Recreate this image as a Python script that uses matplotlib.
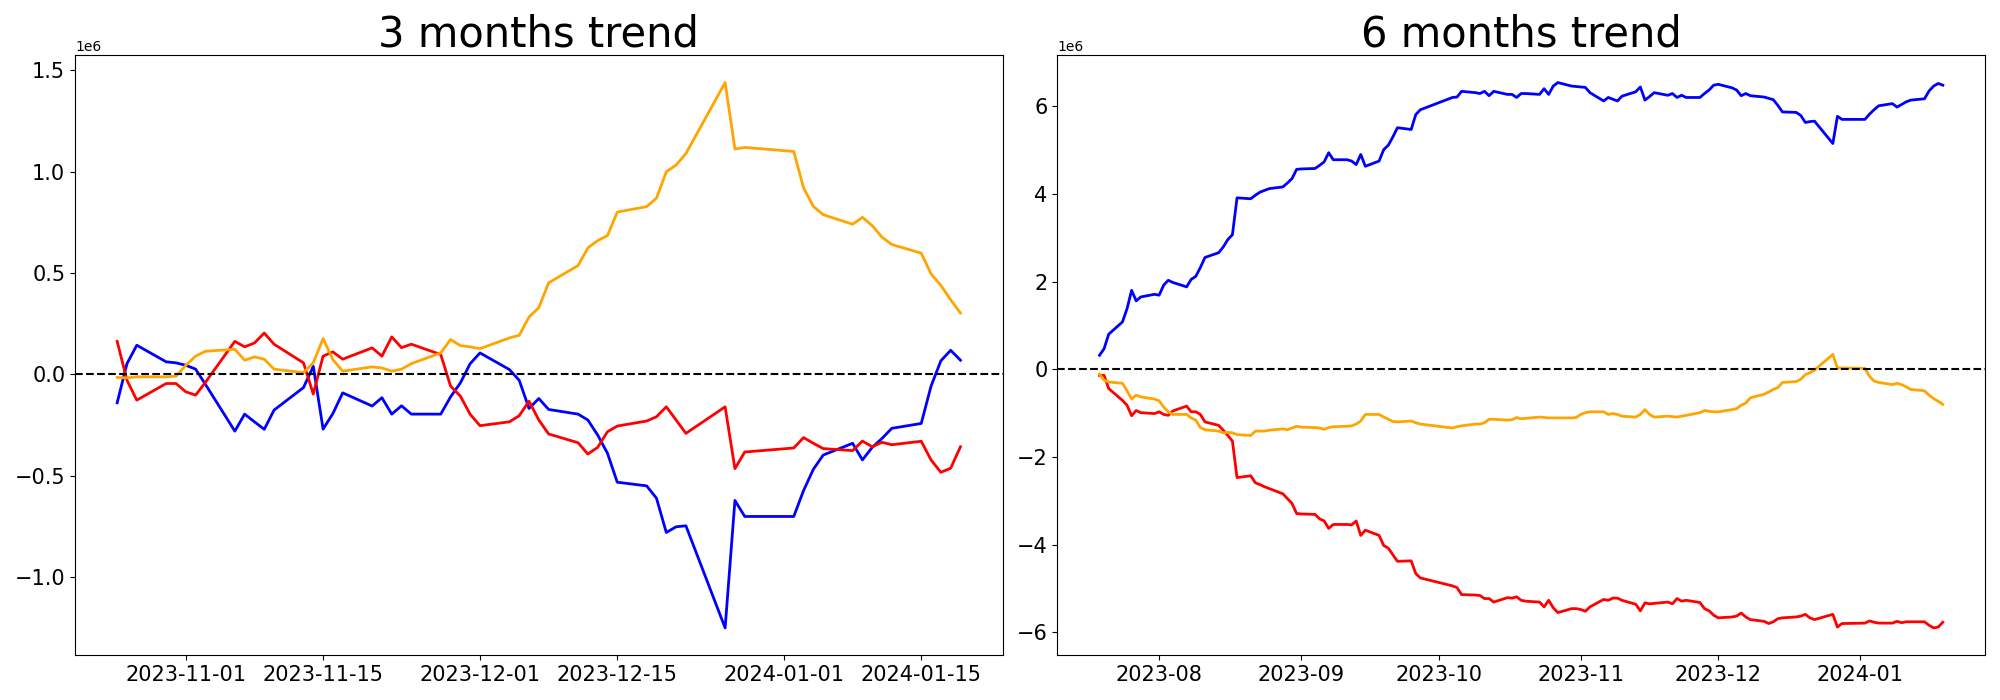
import numpy as np
import pandas as pd
import matplotlib
matplotlib.use("Agg")
import matplotlib.pyplot as plt

# trading days in each window (weekdays, minus the days missing in the feed)
gaps_3m = ["2023-12-25", "2023-12-29", "2024-01-01"]
gaps_6m = ["2023-09-28", "2023-09-29", "2023-10-02", "2023-10-03"] + gaps_3m

dates_3m = pd.bdate_range("2023-10-25", "2024-01-19").drop(pd.to_datetime(gaps_3m))
dates_6m = pd.bdate_range("2023-07-19", "2024-01-19").drop(pd.to_datetime(gaps_6m))

# ---- 3 months (values in millions) ----
blue_3m = [
    -0.141, 0.052, 0.143, 0.061, 0.056,                                   # Oct
    0.044, 0.025, -0.050, -0.281, -0.197, -0.235, -0.272, -0.177, -0.066,
    0.039, -0.271, -0.194, -0.092, -0.157, -0.116, -0.197, -0.156, -0.197,
    -0.197, -0.112, -0.043, 0.052,                                        # Nov
    0.105, 0.023, -0.030, -0.169, -0.120, -0.174, -0.197, -0.226, -0.300,
    -0.390, -0.533, -0.551, -0.612, -0.781, -0.753, -0.748, -1.252, -0.623,
    -0.702,                                                               # Dec
    -0.702, -0.574, -0.469, -0.399, -0.341, -0.423, -0.361, -0.317, -0.267,
    -0.243, -0.059, 0.066, 0.118, 0.069,                                  # Jan
]
red_3m = [
    0.162, -0.030, -0.128, -0.046, -0.046,
    -0.087, -0.103, -0.040, 0.162, 0.135, 0.154, 0.203, 0.148, 0.056,
    -0.098, 0.089, 0.110, 0.074, 0.130, 0.089, 0.184, 0.131, 0.148,
    0.097, -0.059, -0.108, -0.198,
    -0.254, -0.235, -0.205, -0.133, -0.226, -0.295, -0.338, -0.394, -0.361,
    -0.284, -0.256, -0.231, -0.210, -0.161, -0.226, -0.292, -0.161, -0.466,
    -0.384,
    -0.364, -0.313, -0.341, -0.367, -0.377, -0.330, -0.358, -0.336, -0.348,
    -0.331, -0.423, -0.484, -0.464, -0.358,
]
orange_3m = [
    -0.016, -0.018, -0.013, -0.013, -0.010,
    0.044, 0.089, 0.113, 0.123, 0.069, 0.085, 0.074, 0.025, 0.008,
    0.056, 0.176, 0.072, 0.015, 0.036, 0.031, 0.015, 0.025, 0.052,
    0.105, 0.171, 0.141, 0.135,
    0.126, 0.179, 0.192, 0.282, 0.328, 0.451, 0.536, 0.623, 0.659,
    0.684, 0.800, 0.827, 0.869, 0.999, 1.032, 1.089, 1.439, 1.111,
    1.119,
    1.099, 0.919, 0.828, 0.787, 0.740, 0.774, 0.733, 0.676, 0.640,
    0.597, 0.495, 0.438, 0.367, 0.302,
]

# ---- 6 months (values in millions) ----
blue_6m = [
    0.32, 0.47, 0.80, 1.08, 1.38, 1.80, 1.56, 1.65, 1.71,                 # Jul
    1.69, 1.92, 2.03, 1.98, 1.88, 2.05, 2.12, 2.32, 2.55, 2.66, 2.79, 2.96,
    3.07, 3.91, 3.89, 3.97, 4.04, 4.08, 4.12, 4.16, 4.25, 4.35, 4.56,     # Aug
    4.57, 4.58, 4.65, 4.73, 4.94, 4.78, 4.78, 4.75, 4.67, 4.90, 4.63, 4.75,
    5.01, 5.11, 5.30, 5.51, 5.47, 5.81, 5.92,                             # Sep
    6.20, 6.21, 6.34, 6.31, 6.29, 6.34, 6.24, 6.34, 6.27, 6.27, 6.20, 6.29,
    6.29, 6.27, 6.40, 6.27, 6.46, 6.54, 6.46, 6.45,                       # Oct
    6.44, 6.43, 6.31, 6.12, 6.20, 6.16, 6.12, 6.23, 6.33, 6.44, 6.14, 6.22,
    6.31, 6.25, 6.29, 6.20, 6.25, 6.20, 6.20, 6.29, 6.37, 6.48,           # Nov
    6.50, 6.42, 6.37, 6.24, 6.29, 6.24, 6.21, 6.18, 6.15, 6.02, 5.87, 5.86,
    5.79, 5.63, 5.65, 5.66, 5.15, 5.77, 5.70,                             # Dec
    5.70, 5.82, 5.92, 6.01, 6.06, 5.98, 6.04, 6.10, 6.14, 6.17, 6.35, 6.46,
    6.52, 6.48,                                                           # Jan
]
red_6m = [
    -0.14, -0.14, -0.44, -0.71, -0.82, -1.06, -0.94, -0.99, -1.01,
    -0.97, -1.03, -1.05, -0.95, -0.84, -0.97, -0.97, -1.03, -1.20, -1.28,
    -1.39, -1.51, -1.64, -2.47, -2.43, -2.59, -2.63, -2.68, -2.72, -2.84,
    -2.95, -3.06, -3.29,
    -3.30, -3.31, -3.41, -3.46, -3.63, -3.54, -3.54, -3.55, -3.46, -3.79,
    -3.67, -3.79, -4.02, -4.08, -4.23, -4.38, -4.37, -4.66, -4.76,
    -4.94, -4.98, -5.14, -5.15, -5.16, -5.23, -5.23, -5.31, -5.21, -5.22,
    -5.19, -5.27, -5.29, -5.31, -5.42, -5.27, -5.44, -5.55, -5.46, -5.46,
    -5.48, -5.52, -5.42, -5.25, -5.27, -5.22, -5.22, -5.27, -5.36, -5.51,
    -5.33, -5.35, -5.34, -5.31, -5.35, -5.23, -5.29, -5.27, -5.32, -5.46,
    -5.51, -5.61,
    -5.67, -5.65, -5.63, -5.56, -5.65, -5.71, -5.75, -5.80, -5.76, -5.69,
    -5.67, -5.65, -5.63, -5.59, -5.67, -5.71, -5.59, -5.88, -5.80,
    -5.79, -5.74, -5.77, -5.79, -5.79, -5.75, -5.78, -5.76, -5.76, -5.76,
    -5.84, -5.90, -5.88, -5.77,
]
orange_6m = [
    -0.11, -0.25, -0.29, -0.32, -0.49, -0.68, -0.59, -0.63, -0.68,
    -0.72, -0.86, -0.97, -1.03, -1.03, -1.11, -1.16, -1.33, -1.38, -1.41,
    -1.45, -1.44, -1.45, -1.49, -1.51, -1.41, -1.41, -1.41, -1.39, -1.36,
    -1.38, -1.34, -1.30,
    -1.32, -1.33, -1.34, -1.37, -1.33, -1.31, -1.30, -1.29, -1.25, -1.18,
    -1.03, -1.03, -1.09, -1.14, -1.19, -1.20, -1.18, -1.22, -1.25,
    -1.34, -1.31, -1.29, -1.25, -1.25, -1.22, -1.14, -1.14, -1.16, -1.15,
    -1.10, -1.13, -1.12, -1.09, -1.10, -1.11, -1.11, -1.11, -1.11, -1.10,
    -1.03, -0.99, -0.97, -0.97, -1.03, -1.01, -1.03, -1.07, -1.09, -1.03,
    -0.92, -1.03, -1.09, -1.07, -1.08, -1.09, -1.07, -1.05, -0.99, -0.94,
    -0.96, -0.97,
    -0.97, -0.92, -0.90, -0.82, -0.77, -0.65, -0.57, -0.52, -0.46, -0.42,
    -0.30, -0.28, -0.23, -0.12, -0.08, -0.02, 0.34, 0.03, 0.03,
    0.02, -0.16, -0.27, -0.30, -0.35, -0.32, -0.35, -0.40, -0.46, -0.49,
    -0.59, -0.67, -0.73, -0.80,
]

panels = [
    ("3 months trend", dates_3m, blue_3m, red_3m, orange_3m),
    ("6 months trend", dates_6m, blue_6m, red_6m, orange_6m),
]

fig, axes = plt.subplots(1, 2, figsize=(20, 7))
fig.subplots_adjust(left=0.0375, right=0.9925, bottom=0.064, top=0.921, wspace=0.059)

for ax, (title, dates, blue, red, orange) in zip(axes, panels):
    x = dates.to_pydatetime()
    ax.plot(x, np.array(blue) * 1e6, color='blue', linewidth=2)
    ax.plot(x, np.array(red) * 1e6, color='red', linewidth=2)
    ax.plot(x, np.array(orange) * 1e6, color='orange', linewidth=2)
    ax.axhline(0, color='black', linestyle='--', linewidth=1.5)
    ax.set_title(title, fontsize=30)
    ax.tick_params(axis='both', labelsize=15)
    ax.yaxis.get_offset_text().set_fontsize(10)

fig.savefig("out.png", dpi=100)
